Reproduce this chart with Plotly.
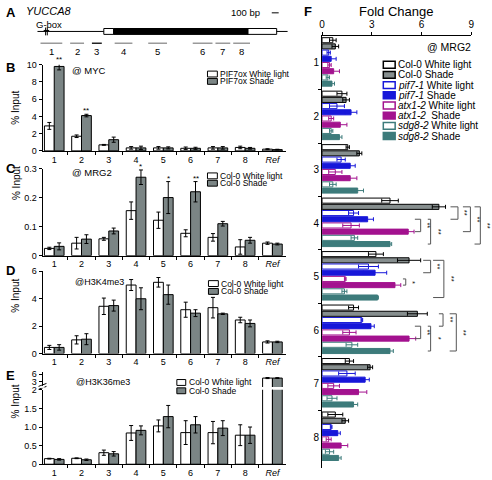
import plotly.graph_objects as go

W, H = 492, 480
FONT = "Liberation Sans, Arial, Helvetica, sans-serif"

# ---------------- Panel A: YUCCA8 gene model (bp) ----------------
gene_span_bp = [70, 3690]
gbox_bp = 200
utr5_bp = [1030, 1173]
cds_bp = [1173, 3117]
utr3_bp = [3117, 3532]
frag_names = ["1", "2", "3", "4", "5", "6", "7", "8"]
frag_start_bp = [114, 543, 858, 1187, 1673, 2317, 2646, 2903]
frag_end_bp = [429, 744, 1001, 1444, 1945, 2603, 2860, 3146]
frag_colors = ["#9a9a9a", "#9a9a9a", "#222222", "#9a9a9a", "#9a9a9a", "#9a9a9a", "#9a9a9a", "#9a9a9a"]
scalebar_bp = [3461, 3561]

# ---------------- Panels B-E: ChIP % input ----------------
sites = ["1", "2", "3", "4", "5", "6", "7", "8", "<i>Ref</i>"]

myc_wl = [2.9, 1.7, 0.7, 0.35, 0.35, 0.3, 0.35, 0.4, 0.2]
myc_wl_err = [0.4, 0.15, 0.05, 0.15, 0.15, 0.15, 0.15, 0.15, 0.05]
myc_sh = [9.8, 4.1, 1.3, 0.35, 0.35, 0.3, 0.35, 0.3, 0.15]
myc_sh_err = [0.4, 0.15, 0.3, 0.2, 0.12, 0.12, 0.15, 0.1, 0.04]
myc_sig = ["**", "**", "", "", "", "", "", "", ""]

mrg2_wl = [0.025, 0.043, 0.058, 0.155, 0.122, 0.077, 0.063, 0.03, 0.043]
mrg2_wl_err = [0.004, 0.02, 0.005, 0.03, 0.028, 0.012, 0.013, 0.025, 0.004]
mrg2_sh = [0.032, 0.057, 0.085, 0.27, 0.20, 0.22, 0.11, 0.053, 0.04]
mrg2_sh_err = [0.012, 0.015, 0.01, 0.025, 0.055, 0.035, 0.008, 0.01, 0.003]
mrg2_sig = ["", "", "", "*", "*", "**", "", "", ""]

k4_wl = [0.45, 1.0, 3.45, 5.0, 5.2, 3.2, 3.35, 2.45, 0.85]
k4_wl_err = [0.15, 0.3, 0.6, 0.4, 0.35, 0.55, 0.75, 0.2, 0.08]
k4_sh = [0.45, 1.05, 3.5, 4.0, 4.3, 2.95, 2.9, 2.2, 0.85]
k4_sh_err = [0.2, 0.4, 0.4, 0.8, 0.7, 0.25, 0.05, 0.25, 0.05]
k4_sig = [""] * 9

k36_wl = [0.15, 0.16, 0.31, 0.84, 1.03, 0.85, 0.85, 0.78, 4.5]
k36_wl_err = [0.01, 0.01, 0.07, 0.2, 0.16, 0.32, 0.3, 0.28, 0.2]
k36_sh = [0.13, 0.12, 0.28, 0.91, 1.28, 1.06, 0.97, 0.78, 4.5]
k36_sh_err = [0.02, 0.02, 0.06, 0.12, 0.3, 0.22, 0.2, 0.22, 0.15]
k36_sig = [""] * 9

# ---------------- Panel F: fold change @ MRG2 ----------------
groups_F = ["1", "2", "3", "4", "5", "6", "7", "8"]
col_wl = [0.65, 1.2, 1.55, 4.1, 3.25, 1.9, 1.65, 0.8]
col_wl_err = [0.2, 0.3, 0.1, 0.5, 0.45, 0.3, 0.25, 0.45]
col_sh = [0.8, 1.45, 2.25, 7.05, 5.25, 5.75, 2.9, 1.4]
col_sh_err = [0.2, 0.2, 0.15, 0.4, 0.7, 0.6, 0.15, 0.2]
pif_wl = [0.4, 0.9, 1.15, 1.9, 2.8, 2.4, 1.5, 0.55]
pif_wl_err = [0.1, 0.45, 0.25, 0.3, 0.6, 0.05, 0.5, 0.05]
pif_sh = [0.55, 1.75, 1.7, 2.75, 3.2, 2.95, 2.6, 0.95]
pif_sh_err = [0.3, 0.35, 0.3, 0.35, 0.7, 0.2, 0.25, 0.15]
atx_wl = [0.45, 0.55, 0.8, 1.75, 1.4, 1.65, 0.7, 0.4]
atx_wl_err = [0.1, 0.15, 0.4, 0.5, 0.05, 0.4, 0.35, 0.15]
atx_sh = [0.7, 1.1, 1.7, 5.2, 4.4, 5.25, 2.2, 1.15]
atx_sh_err = [0.35, 0.4, 0.4, 0.35, 0.35, 0.4, 0.5, 0.4]
sdg_wl = [0.35, 0.55, 0.65, 1.95, 1.35, 1.8, 0.6, 0.45]
sdg_wl_err = [0.1, 0.1, 0.2, 0.2, 0.15, 0.35, 0.3, 0.25]
sdg_sh = [0.6, 1.05, 2.15, 4.1, 3.35, 4.1, 1.9, 1.0]
sdg_sh_err = [0.15, 0.15, 0.35, 0.1, 0.05, 0.2, 0.25, 0.15]

F_names = ["Col-0 White light", "Col-0 Shade", "<i>pif7-1</i> White light", "<i>pif7-1</i> Shade",
           "<i>atx1-2</i> White light", "<i>atx1-2</i>  Shade", "<i>sdg8-2</i> White light", "<i>sdg8-2</i> Shade"]
F_values = [col_wl, col_sh, pif_wl, pif_sh, atx_wl, atx_sh, sdg_wl, sdg_sh]
F_errors = [col_wl_err, col_sh_err, pif_wl_err, pif_sh_err, atx_wl_err, atx_sh_err, sdg_wl_err, sdg_sh_err]

# significance brackets: (group index, bar a, bar b, left fold, right fold, label)
F_brackets = [
    (3, 1, 3, 7.75, 8.2, "**"), (3, 1, 5, 8.5, 8.95, "**"), (3, 1, 7, 9.2, 9.55, "**"),
    (3, 3, 5, 5.6, 5.95, "**"), (3, 3, 7, 6.38, 6.55, "**"),
    (4, 1, 3, 6.1, 6.55, "**"), (4, 1, 7, 6.7, 7.35, "**"), (4, 4, 5, 4.88, 5.05, "*"),
    (5, 1, 3, 7.05, 7.3, "**"), (5, 1, 7, 7.7, 8.1, "**"),
    (5, 3, 5, 5.6, 5.95, "**"), (5, 3, 7, 6.38, 6.55, "*"),
]

# ---------------- styling ----------------
GRAY = "#7b8585"
F_fill = ["white", "#868e8e", "white", "#1717d9", "white", "#a3128f", "white", "#3d7b7b"]
F_line = ["black", "black", "#1717d9", "#1717d9", "#a3128f", "#a3128f", "#3d7b7b", "#3d7b7b"]


def xd(a, b):
    return [a / W, b / W]


def yd(top, bottom):
    return [1 - bottom / H, 1 - top / H]


def P(x, y):
    return x / W, 1 - y / H


# panel vertical layout (top px, bottom px, y range)
PB = (61, 149, [0, 10])
PC = (167, 256, [0, 0.3])
PD = (272, 356, [0, 6])
PE = (393, 469, [0, 2])

fig = go.Figure()
shapes = []
ann = []

# ---- B-E bars
panel_data = [
    ("x", "y", PB, myc_wl, myc_wl_err, myc_sh, myc_sh_err, myc_sig),
    ("x2", "y2", PC, mrg2_wl, mrg2_wl_err, mrg2_sh, mrg2_sh_err, mrg2_sig),
    ("x3", "y3", PD, k4_wl, k4_wl_err, k4_sh, k4_sh_err, k4_sig),
    ("x4", "y4", PE, k36_wl, k36_wl_err, k36_sh, k36_sh_err, k36_sig),
]
BW = 0.36
for xa, ya, pan, wl, wle, sh, she, sig in panel_data:
    fig.add_trace(go.Bar(x=sites, y=wl, width=BW, offset=-BW, xaxis=xa, yaxis=ya,
                         marker=dict(color="white", line=dict(color="black", width=1)),
                         error_y=dict(type="data", array=wle, color="black", thickness=1, width=2),
                         showlegend=False, hoverinfo="skip"))
    fig.add_trace(go.Bar(x=sites, y=sh, width=BW, offset=0, xaxis=xa, yaxis=ya,
                         marker=dict(color=GRAY, line=dict(color="black", width=1)),
                         error_y=dict(type="data", array=she, color="black", thickness=1, width=2),
                         showlegend=False, hoverinfo="skip"))
    top_px, bot_px, rng = pan
    ppu = (bot_px - top_px) / (rng[1] - rng[0])
    for idx, (s, v, e) in enumerate(zip(sig, sh, she)):
        if s:
            yv = v + e
            extra = 0
            if yv > rng[1]:
                extra = (yv - rng[1]) * ppu
                yv = rng[1]
            ann.append(dict(x=idx + BW / 2, y=yv, xref=xa, yref=ya, text=s, showarrow=False,
                            yanchor="bottom", yshift=-3 + extra, font=dict(size=8, color="black")))

# E upper (broken axis) - Ref bars only
fig.add_trace(go.Bar(x=[sites[-1]], y=[k36_wl[-1]], width=BW, offset=-BW, xaxis="x5", yaxis="y5",
                     marker=dict(color="white", line=dict(color="black", width=1)),
                     error_y=dict(type="data", array=[k36_wl_err[-1]], color="black", thickness=1, width=2),
                     showlegend=False, hoverinfo="skip"))
fig.add_trace(go.Bar(x=[sites[-1]], y=[k36_sh[-1]], width=BW, offset=0, xaxis="x5", yaxis="y5",
                     marker=dict(color=GRAY, line=dict(color="black", width=1)),
                     error_y=dict(type="data", array=[k36_sh_err[-1]], color="black", thickness=1, width=2),
                     showlegend=False, hoverinfo="skip"))

# ---- F bars
FBW, FSTEP, FSTART = 0.095, 0.116, -0.47
for i in range(8):
    fig.add_trace(go.Bar(y=groups_F, x=F_values[i], orientation="h", width=FBW, offset=FSTART + i * FSTEP,
                         xaxis="x6", yaxis="y6",
                         marker=dict(color=F_fill[i], line=dict(color=F_line[i], width=1)),
                         error_x=dict(type="data", array=F_errors[i], color=F_line[i], thickness=1, width=2),
                         showlegend=False, hoverinfo="skip"))

# ---- A dummy trace to host gene axis
fig.add_trace(go.Scatter(x=[(a + b) / 2 for a, b in zip(frag_start_bp, frag_end_bp)], y=[0.5] * 8,
                         mode="markers", marker=dict(opacity=0), xaxis="x7", yaxis="y7",
                         showlegend=False, hoverinfo="skip"))

# ---------------- axes ----------------
XB = xd(40, 286)


def cat_x(anchor, visible=True):
    return dict(domain=XB, anchor=anchor, type="category", categoryorder="array", categoryarray=sites,
                range=[-0.43, 8.48], showline=True, linecolor="black", linewidth=1, ticks="outside",
                ticklen=3, tickcolor="black", tickson="boundaries", tickfont=dict(size=9, color="black"),
                showgrid=False, zeroline=False, fixedrange=True, visible=visible)


def lin_y(pan, tickvals, ticktext, anchor):
    return dict(domain=yd(pan[0], pan[1]), range=pan[2], tickvals=tickvals, ticktext=ticktext, anchor=anchor,
                showline=True, linecolor="black", linewidth=1, ticks="outside", ticklen=3,
                tickcolor="black", tickfont=dict(size=9, color="black"), showgrid=False,
                zeroline=False, fixedrange=True)


layout = dict(
    width=W, height=H, margin=dict(l=0, r=0, t=0, b=0), autosize=False,
    paper_bgcolor="white", plot_bgcolor="rgba(0,0,0,0)", barmode="overlay",
    font=dict(family=FONT, color="black", size=9),
    xaxis=cat_x("y"), yaxis=lin_y(PB, [0, 2, 4, 6, 8, 10], ["0", "2", "4", "6", "8", "10"], "x"),
    xaxis2=cat_x("y2"), yaxis2=lin_y(PC, [0, 0.1, 0.2, 0.3], ["0", "0.1", "0.2", "0.3"], "x2"),
    xaxis3=cat_x("y3"), yaxis3=lin_y(PD, [0, 2, 4, 6], ["0", "2", "4", "6"], "x3"),
    xaxis4=cat_x("y4"), yaxis4=lin_y(PE, [0, 0.5, 1, 1.5, 2], ["0", "0.5", "1.0", "1.5", "2"], "x4"),
    xaxis5=cat_x("y5", visible=False), yaxis5=lin_y((375, 390, [1.125, 6.75]), [3, 6], ["3", "6"], "x5"),
    xaxis6=dict(domain=xd(323, 474), anchor="y6", side="top", range=[0, 9], tickvals=[0, 3, 6, 9],
                showline=True, linecolor="black", linewidth=1, ticks="outside", ticklen=3, tickcolor="black",
                tickfont=dict(size=10, color="black"), showgrid=False, zeroline=False, fixedrange=True),
    yaxis6=dict(domain=yd(32, 473), anchor="x6", type="category", categoryorder="array", categoryarray=groups_F,
                range=[7.58, -0.495], showline=True, linecolor="black", linewidth=1, ticks="outside", ticklen=3,
                tickcolor="black", tickson="boundaries", tickfont=dict(size=10, color="black"),
                showgrid=False, zeroline=False, fixedrange=True),
    xaxis7=dict(domain=xd(30, 300), anchor="y7", range=[0, 3860], visible=False, fixedrange=True),
    yaxis7=dict(domain=yd(18, 50), anchor="x7", range=[0, 1], visible=False, fixedrange=True),
)
fig.update_layout(**layout)


def text(x, y, s, size=9, xanchor="left", bold=False, italic=False, angle=0):
    if bold:
        s = "<b>" + s + "</b>"
    if italic:
        s = "<i>" + s + "</i>"
    px_, py_ = P(x, y)
    ann.append(dict(xref="paper", yref="paper", x=px_, y=py_, text=s, showarrow=False, xanchor=xanchor,
                    yanchor="middle", textangle=angle, font=dict(size=size, color="black")))


# ---- Panel A drawing
yl = 1 - 27 / H
shapes.append(dict(type="line", xref="x7", yref="paper", x0=gene_span_bp[0], x1=gene_span_bp[1], y0=yl, y1=yl,
                   line=dict(color="black", width=1)))
for seg, fill in [(utr5_bp, "white"), (cds_bp, "black"), (utr3_bp, "white")]:
    shapes.append(dict(type="rect", xref="x7", yref="paper", x0=seg[0], x1=seg[1], y0=1 - 30 / H, y1=1 - 24 / H,
                       fillcolor=fill, line=dict(color="black", width=1)))
for dx in (-12, 12):
    shapes.append(dict(type="line", xref="x7", yref="paper", x0=gbox_bp + dx, x1=gbox_bp + dx,
                       y0=1 - 31 / H, y1=1 - 23 / H, line=dict(color="black", width=1)))
shapes.append(dict(type="line", xref="x7", yref="paper", x0=gbox_bp - 40, x1=gbox_bp + 40,
                   y0=1 - 26 / H, y1=1 - 26 / H, line=dict(color="black", width=1)))
for s0, s1, c, nm in zip(frag_start_bp, frag_end_bp, frag_colors, frag_names):
    shapes.append(dict(type="line", xref="x7", yref="paper", x0=s0, x1=s1, y0=1 - 39 / H, y1=1 - 39 / H,
                       line=dict(color=c, width=1.5)))
    ann.append(dict(xref="x7", yref="paper", x=(s0 + s1) / 2, y=1 - 47 / H, text=nm, showarrow=False,
                    yanchor="middle", font=dict(size=9.5, color="black")))
shapes.append(dict(type="line", xref="x7", yref="paper", x0=scalebar_bp[0], x1=scalebar_bp[1],
                   y0=1 - 8 / H, y1=1 - 8 / H, line=dict(color="black", width=1)))
text(262, 8, "100 bp", size=9.5, xanchor="right")
text(1, 8, "A", size=13, bold=True)
text(21, 6, "YUCCA8", size=11, italic=True)
text(31, 20, "G-box", size=9.5)

# ---- panel letters and labels
text(1, 64, "B", size=13, bold=True)
text(1, 167, "C", size=13, bold=True)
text(1, 271, "D", size=13, bold=True)
text(1, 378, "E", size=13, bold=True)
text(303, 7, "F", size=13, bold=True)
for yy in (105, 182, 297, 405):
    text(13, yy, "% Input", size=10, xanchor="center", angle=-90)
text(68, 67, "@ MYC", size=9.5)
text(68, 171, "@ MRG2", size=9.5)
text(71, 283, "@H3K4me3", size=9)
text(72, 385, "@H3K36me3", size=9)
text(398, 7, "Fold Change", size=13, xanchor="center")
text(476, 43, "@ MRG2", size=10.5, xanchor="right")


def legend(x_sw, rows, sw_w, sw_h, labels, fills, lines, size, lw=1):
    for y, lab, f, l in zip(rows, labels, fills, lines):
        shapes.append(dict(type="rect", xref="paper", yref="paper", x0=x_sw / W, x1=(x_sw + sw_w) / W,
                           y0=1 - (y + sw_h / 2) / H, y1=1 - (y - sw_h / 2) / H, fillcolor=f,
                           line=dict(color=l, width=lw)))
        text(x_sw + sw_w + 1, y, lab, size=size)


legend(207, [70.5, 78], 10, 6, ["PIF7ox White light", "PIF7ox Shade"], ["white", GRAY], ["black", "black"], 8.5)
legend(207, [174.5, 182], 10, 6, ["Col-0 White light", "Col-0 Shade"], ["white", GRAY], ["black", "black"], 8.5)
legend(208, [284.5, 292.5], 10, 6, ["Col-0 White light", "Col-0 Shade"], ["white", GRAY], ["black", "black"], 8.5)
legend(176, [385.5, 394], 9, 6, ["Col-0 White light", "Col-0 Shade"], ["white", GRAY], ["black", "black"], 8.5)
legend(385, [61 + i * 10.4 for i in range(8)], 12, 7, F_names, F_fill, F_line, 10, lw=1.5)

# E axis break marks
for yy in (388, 391):
    shapes.append(dict(type="line", xref="paper", yref="paper", x0=36 / W, x1=44 / W, y0=1 - (yy + 1.5) / H,
                       y1=1 - (yy - 1.5) / H, line=dict(color="black", width=1)))
shapes.append(dict(type="rect", xref="paper", yref="paper", x0=38 / W, x1=42 / W, y0=1 - 391 / H, y1=1 - 389 / H,
                   fillcolor="white", line=dict(width=0)))

# ---- F brackets
F_X0, F_X1, F_MAX = 323, 474, 9


def fc_paper(v):
    return (F_X0 + v * (F_X1 - F_X0) / F_MAX) / W


for g, a, b, xl, xr, lab in F_brackets:
    ya = g + FSTART + a * FSTEP + FBW / 2
    yb = g + FSTART + b * FSTEP + FBW / 2
    for (x0, y0, x1, y1) in [(xl, ya, xr, ya), (xr, ya, xr, yb), (xl, yb, xr, yb)]:
        shapes.append(dict(type="line", xref="paper", yref="y6", x0=fc_paper(x0), x1=fc_paper(x1), y0=y0, y1=y1,
                           line=dict(color="#555555", width=1)))
    ann.append(dict(xref="paper", yref="y6", x=fc_paper(xr + 0.05), y=(ya + yb) / 2, text=lab, showarrow=False,
                    xanchor="left", yanchor="middle", textangle=90, font=dict(size=7.5, color="black")))

fig.layout.shapes = shapes
fig.layout.annotations = ann
fig.write_html("out.html", config={"displayModeBar": False},
               post_script="document.body.style.margin='0px';document.body.style.overflow='hidden';")
